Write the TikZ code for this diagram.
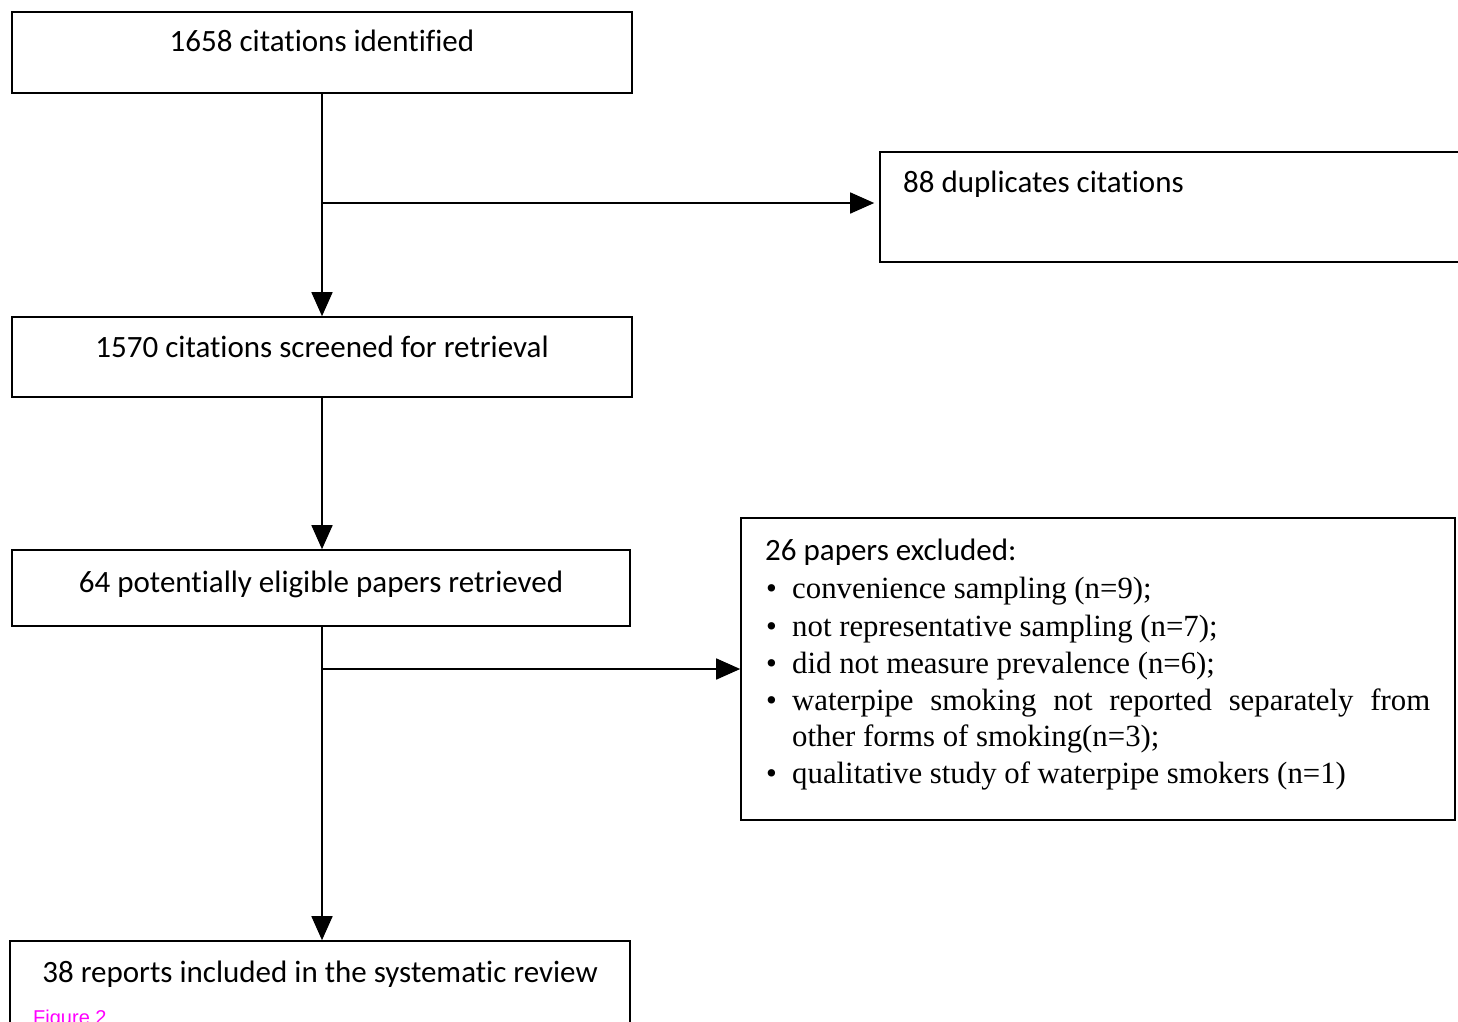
\documentclass[tikz,border=0pt]{standalone}
\usepackage{fontspec}
\setmainfont[Ligatures=NoCommon]{Carlito}
\newfontfamily\serifx{Liberation Serif}
\newfontfamily\arialx{Liberation Sans}
\usetikzlibrary{arrows.meta}
\definecolor{figmag}{RGB}{255,0,255}
\begin{document}
\begin{tikzpicture}[x=1pt,y=-1pt,
  box/.style={draw=black,line width=1.6pt,rectangle,inner sep=0pt},
  lbl/.style={anchor=base,inner sep=0pt,font=\fontsize{31}{37}\selectfont},
  lblw/.style={anchor=base west,inner sep=0pt,font=\fontsize{31}{37}\selectfont},
  item/.style={anchor=base west,inner sep=0pt,font=\serifx\fontsize{30.8}{37}\selectfont},
  arr/.style={line width=1.6pt,-{Triangle[length=24pt,width=21pt]}}]
\useasboundingbox (0,0) rectangle (1458,1021);
\clip (0,0) rectangle (1458,1021);
\fill[white] (0,0) rectangle (1458,1021);
% boxes
\node[box,minimum width=620pt,minimum height=81pt] (b1) at (322,52.5) {};
\node[box,minimum width=590pt,minimum height=110pt] (dup) at (1175,207) {};
\node[box,minimum width=620pt,minimum height=80pt] (b2) at (322,357) {};
\node[box,minimum width=618pt,minimum height=76pt] (b3) at (321,588) {};
\node[box,minimum width=714pt,minimum height=302pt] (ex) at (1098,669) {};
\node[box,minimum width=620pt,minimum height=99pt] (b4) at (320,990.5) {};
% texts
\node[lbl] (t1) at (322,51) {1658 citations identified};
\node[lblw] (td) at (903,192) {88 duplicates citations};
\node[lbl] (t2) at (322,357) {1570 citations screened for retrieval};
\node[lbl] (t3) at (321,592) {64 potentially eligible papers retrieved};
\node[lbl] (t4) at (320,982) {38 reports included in the systematic review};
\node[anchor=base west,inner sep=0pt,text=figmag,font=\arialx\fontsize{20}{24}\selectfont] (fig) at (33,1024) {Figure 2};
% exclusion list
\node[lblw] (e0) at (765,560) {26 papers excluded:};
\node[item] (e1) at (765,598) {\makebox[27pt][l]{\hspace{1pt}\textbullet}convenience sampling (n=9);};
\node[item] (e2) at (765,636) {\makebox[27pt][l]{\hspace{1pt}\textbullet}not representative sampling (n=7);};
\node[item] (e3) at (765,673) {\makebox[27pt][l]{\hspace{1pt}\textbullet}did not measure prevalence (n=6);};
\node[item] (e4) at (765,710) {\makebox[27pt][l]{\hspace{1pt}\textbullet}\makebox[638pt][s]{waterpipe smoking not reported separately from}};
\node[item] (e5) at (792,746) {other forms of smoking(n=3);};
\node[item] (e6) at (765,783) {\makebox[27pt][l]{\hspace{1pt}\textbullet}qualitative study of waterpipe smokers (n=1)};
% connectors
\coordinate (j1) at (322,203);
\coordinate (j2) at (322,669);
\draw[arr] (b1.south) -- (b2.north);
\draw[arr] (j1) -- ([xshift=-5pt]dup.west |- j1);
\draw[arr] (b2.south) -- (b2.south |- b3.north);
\draw[arr] (b2.south |- b3.south) -- (b2.south |- b4.north);
\draw[arr] (j2) -- (ex.west |- j2);
\end{tikzpicture}
\end{document}
